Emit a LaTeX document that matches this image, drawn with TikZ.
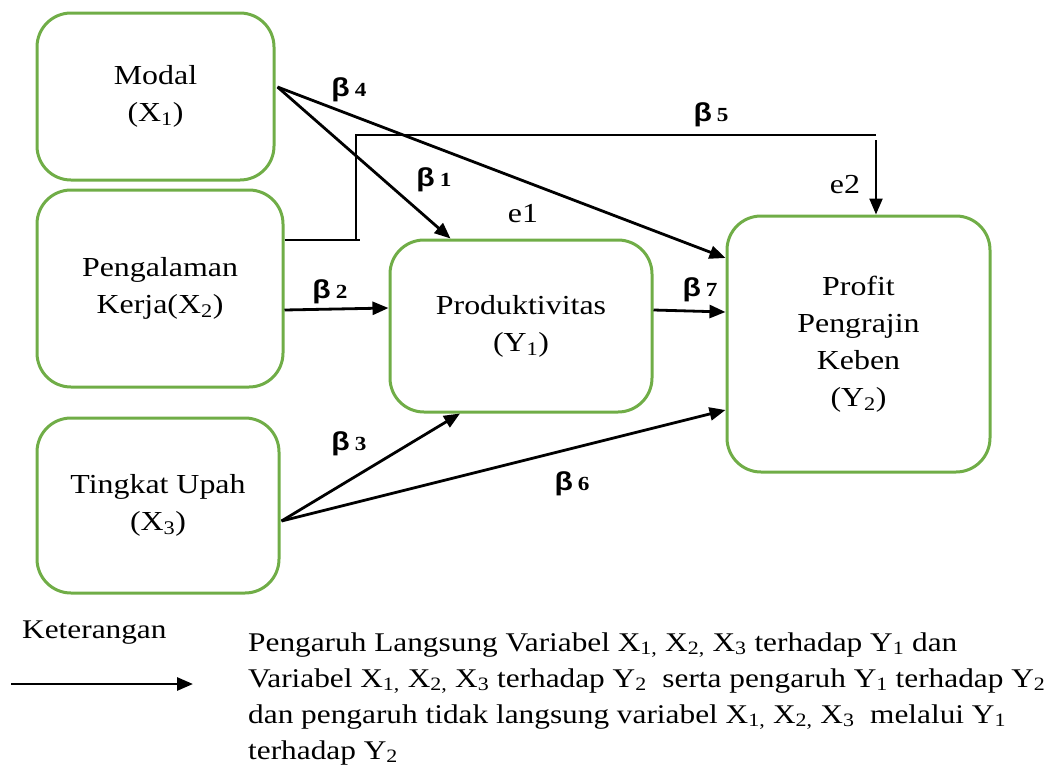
\documentclass[tikz,border=0pt]{standalone}
\usepackage{fontspec}
\setmainfont{Liberation Serif}[FakeStretch=1.16]
\newfontfamily\betafont{Liberation Sans}[FakeStretch=1.16]
\usetikzlibrary{arrows.meta}
\definecolor{boxgreen}{RGB}{112,173,71}
\newcommand{\bl}[1]{{\betafont\bfseries\fontsize{26}{26}\selectfont β}\hspace{5pt}{\rmfamily\bfseries\fontsize{20}{20}\selectfont #1}}
\begin{document}
\begin{tikzpicture}[x=1pt,y=-1pt,
  box/.style={draw=boxgreen, line width=3pt, rounded corners=34pt, inner sep=0pt,
    align=center, font=\fontsize{27.5}{37}\selectfont},
  arr/.style={line width=2.8pt, -{Triangle[length=16pt,width=13pt]}},
  thinl/.style={line width=1.5pt},
  blab/.style={inner sep=0pt},
  txt/.style={inner sep=0pt, font=\fontsize{27.5}{36}\selectfont},
  leg/.style={inner sep=0pt, anchor=base west, font=\fontsize{27}{36}\selectfont}
]
\useasboundingbox (0,0) rectangle (1061,769);

% boxes
\node[box, minimum width=237pt, minimum height=167pt] (x1) at (155.5,96.5) {Modal\\(X\textsubscript{1})};
\node[box, minimum width=246pt, minimum height=197pt] (x2) at (160,288.5) {Pengalaman\\Kerja(X\textsubscript{2})};
\node[box, minimum width=242pt, minimum height=175pt] (x3) at (158,505.5) {Tingkat Upah\\(X\textsubscript{3})};
\node[box, minimum width=262pt, minimum height=172pt] (y1) at (521,326) {Produktivitas\\(Y\textsubscript{1})};
\node[box, minimum width=263pt, minimum height=256pt] (y2) at (858.5,344) {Profit\\Pengrajin\\Keben\\(Y\textsubscript{2})};

% connection points
\coordinate (s1) at ([xshift=2pt,yshift=9.5pt]x1.east);
\coordinate (t1) at ([xshift=62pt]y1.north west);
\coordinate (t4) at ([yshift=86pt]y2.west);
\coordinate (s2) at ([yshift=-21.5pt]x2.east);
\coordinate (t2) at ([yshift=18pt]y1.west);
\coordinate (s3) at ([xshift=1pt,yshift=-15.5pt]x3.east);
\coordinate (t3) at ([xshift=-61pt]y1.south);
\coordinate (t6) at ([yshift=-66pt]y2.west);
\coordinate (s7) at ([yshift=16pt]y1.east);
\coordinate (t7) at ([yshift=32pt]y2.west);
\coordinate (c0) at ([yshift=48.5pt]x2.east);
\coordinate (c1) at (360,240);
\coordinate (c2) at (356,240);
\coordinate (c3) at (876,135);
\coordinate (c4) at (876,140);
\coordinate (t5) at ([xshift=17.5pt]y2.north);

% arrows
\draw[arr] (s1) -- (t1);
\draw[arr] (s1) -- (t4);
\draw[arr] (s2) -- (t2);
\draw[arr] (s3) -- (t3);
\draw[arr] (s3) -- (t6);
\draw[arr] (s7) -- (t7);
\draw[thinl] (c0) -- (c1);
\draw[thinl] (c2) |- (c3);
\draw[line width=2.3pt, -{Triangle[length=16pt,width=13pt]}] (c4) -- (t5);

% labels
\node[blab] (b4) at (349,90) {\bl{4}};
\node[blab] (b1) at (434,180) {\bl{1}};
\node[blab] (b5) at (711,115) {\bl{5}};
\node[blab] (b2) at (330,292) {\bl{2}};
\node[blab] (b3) at (349,444) {\bl{3}};
\node[blab] (b6) at (572,484) {\bl{6}};
\node[blab] (b7) at (700,290) {\bl{7}};
\node[txt, anchor=base] (e1) at (523,222) {e1};
\node[txt, anchor=base] (e2) at (845,193) {e2};

% legend
\node[leg] (ket) at (22,638) {Keterangan};
\coordinate (la) at (11,684);
\coordinate (lb) at (193,684);
\draw[arr] (la) -- (lb);
\node[leg] (l1) at (248,651) {Pengaruh Langsung Variabel X\textsubscript{1,} X\textsubscript{2,} X\textsubscript{3} terhadap Y\textsubscript{1} dan};
\node[leg] (l2) at (248,687) {Variabel X\textsubscript{1,} X\textsubscript{2,} X\textsubscript{3} terhadap Y\textsubscript{2}\ \ serta pengaruh Y\textsubscript{1} terhadap Y\textsubscript{2}};
\node[leg] (l3) at (248,723) {dan pengaruh tidak langsung variabel X\textsubscript{1,} X\textsubscript{2,} X\textsubscript{3}\ \ melalui Y\textsubscript{1}};
\node[leg] (l4) at (248,759) {terhadap Y\textsubscript{2}};
\end{tikzpicture}
\end{document}
